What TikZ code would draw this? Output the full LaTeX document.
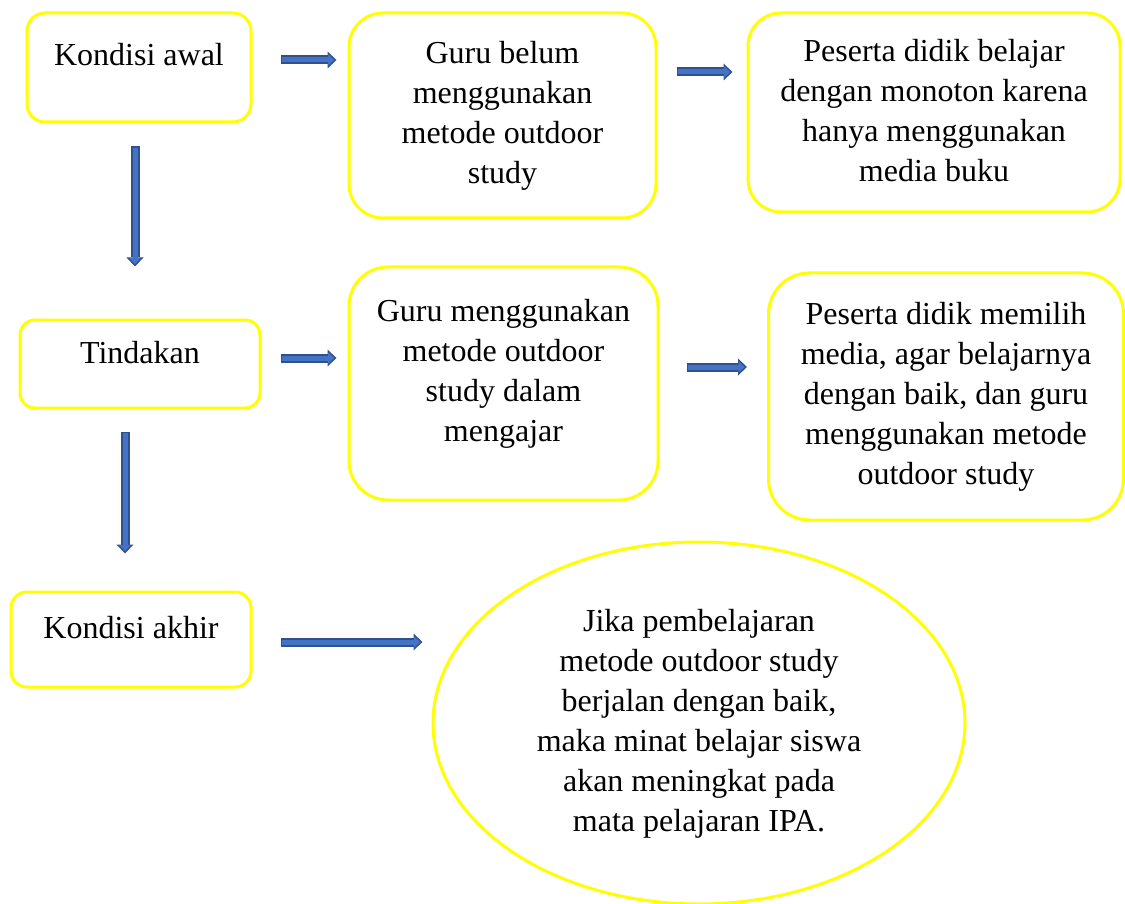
\documentclass[tikz,border=0pt]{standalone}
\usepackage{fontspec}
\setmainfont{Liberation Serif}
\usetikzlibrary{shapes.geometric,arrows.meta,calc}
\definecolor{boxyellow}{HTML}{FFFF00}
\definecolor{aedge}{HTML}{2F528F}
\definecolor{afill}{HTML}{4472C4}
\newcommand{\lifted}[2]{\raisebox{#1}[\height][\depth]{\begin{tabular}{@{}c@{}}#2\end{tabular}}}
\newcommand{\blockarr}[2]{\draw[arrowout] (#1) -- (#2); \draw[arrowin] (#1) -- (#2);}
\begin{document}
\begin{tikzpicture}[x=1pt,y=-1pt,
  txt/.style={font=\fontsize{32pt}{40pt}\selectfont, text=black},
  box/.style={txt, draw=boxyellow, line width=3pt, rounded corners=#1, inner sep=0pt},
  box/.default=20pt,
  oval/.style={txt, ellipse, draw=boxyellow, line width=3pt, inner sep=0pt},
  arrowout/.style={line width=9pt, draw=aedge, -{Triangle[length=9pt,width=17pt,line width=0pt]}},
  arrowin/.style={line width=5pt, draw=afill, shorten <=1.5pt, shorten >=2.3pt, -{Triangle[length=6pt,width=11pt,line width=0pt]}}
]
\useasboundingbox (0,0) rectangle (1125,904);

\node[box=18pt, minimum width=224pt, minimum height=109pt] (n1) at (139,67.5) {\lifted{9.5pt}{Kondisi awal}};
\node[box=34pt, minimum width=307pt, minimum height=205pt] (n2) at (502.5,115.5) {\lifted{0pt}{Guru belum\\menggunakan\\metode outdoor\\study}};
\node[box=33pt, minimum width=372pt, minimum height=199pt] (n3) at (934,112.5) {\lifted{-1pt}{Peserta didik belajar\\dengan monoton karena\\hanya menggunakan\\media buku}};
\node[box=15pt, minimum width=240pt, minimum height=88pt] (n4) at (140,364) {\lifted{9pt}{Tindakan}};
\node[box=39pt, minimum width=309pt, minimum height=233pt] (n5) at (503.5,383.5) {\lifted{10pt}{Guru menggunakan\\metode outdoor\\study dalam\\mengajar}};
\node[box=41pt, minimum width=355pt, minimum height=247pt] (n6) at (946,396.5) {\lifted{0pt}{Peserta didik memilih\\media, agar belajarnya\\dengan baik, dan guru\\menggunakan metode\\outdoor study}};
\node[box=16pt, minimum width=240pt, minimum height=95pt] (n7) at (131,639.5) {\lifted{9.5pt}{Kondisi akhir}};
\node[oval, minimum width=532pt, minimum height=362pt] (el) at (699,723) {\lifted{0pt}{Jika pembelajaran\\metode outdoor study\\berjalan dengan baik,\\maka minat belajar siswa\\akan meningkat pada\\mata pelajaran IPA.}};

\coordinate (a1s) at ($(n1.east)+(28,-7.5)$);
\coordinate (t1) at (a1s -| n2.west);
\coordinate (a1e) at ([xshift=-11pt]t1);
\coordinate (a2s) at ($(n2.east)+(19,-43.5)$);
\coordinate (t2) at (a2s -| n3.west);
\coordinate (a2e) at ([xshift=-14pt]t2);
\coordinate (a3s) at ($(n1.south)+(-4,23)$);
\coordinate (t3) at (a3s |- n4.north);
\coordinate (a3e) at ([yshift=52pt]t3);
\coordinate (a4s) at ($(n4.east)+(19,-6)$);
\coordinate (t4) at (a4s -| n5.west);
\coordinate (a4e) at ([xshift=-11pt]t4);
\coordinate (a5s) at ($(n5.east)+(27,-16.5)$);
\coordinate (t5) at (a5s -| n6.west);
\coordinate (a5e) at ([xshift=-20pt]t5);
\coordinate (a6s) at ($(n4.south)+(-15,22)$);
\coordinate (t6) at (a6s |- n7.north);
\coordinate (a6e) at ([yshift=37pt]t6);
\coordinate (a7s) at ($(n7.east)+(28,2.5)$);
\coordinate (t7) at (a7s -| el.west);
\coordinate (a7e) at ([xshift=-9pt]t7);

\blockarr{a1s}{a1e}
\blockarr{a2s}{a2e}
\blockarr{a3s}{a3e}
\blockarr{a4s}{a4e}
\blockarr{a5s}{a5e}
\blockarr{a6s}{a6e}
\blockarr{a7s}{a7e}
\end{tikzpicture}
\end{document}
